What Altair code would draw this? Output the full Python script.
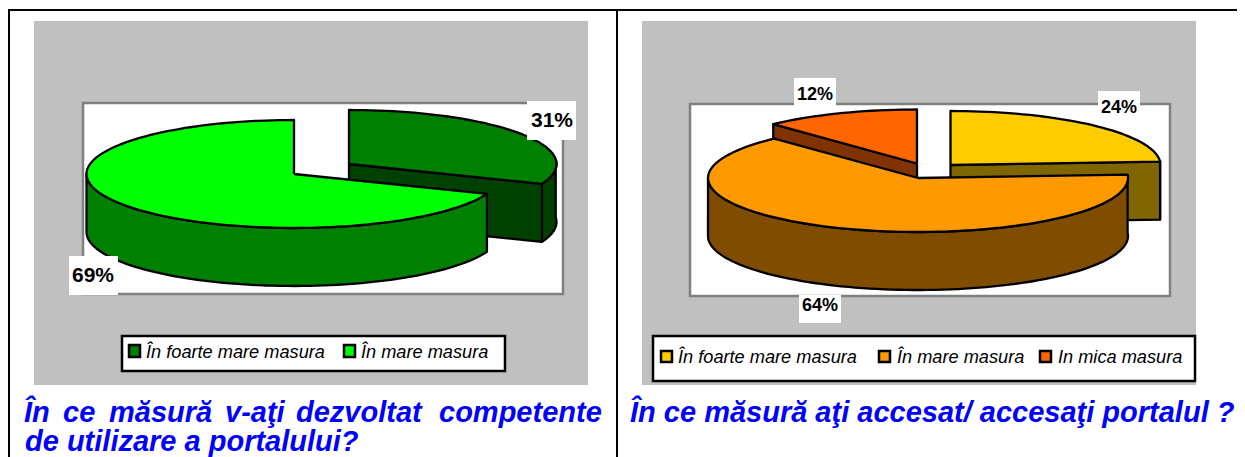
import math
import altair as alt
import pandas as pd

# ---- values ----
left_shares = [31, 69]
left_labels = ["31%", "69%"]
left_names = ["În foarte mare masura", "În mare masura"]
left_tops = ["#008000", "#00FF00"]
left_sides = ["#004000", "#008000"]

right_shares = [24, 64, 12]
right_labels = ["24%", "64%", "12%"]
right_names = ["În foarte mare masura", "În mare masura", "In mica masura"]
right_tops = ["#FFCC00", "#FF9900", "#FF6600"]
right_sides = ["#806600", "#804D00", "#803300"]

left_title_words = ["În", "ce", "măsură", "v-aţi", "dezvoltat", "competente"]
left_title_line2 = "de utilizare a portalului?"
right_title = "În ce măsură aţi accesat/ accesaţi portalul ?"

# ---- layout (pixels of the page) ----
W, H = 1237, 457
RY, DEPTH = 54, 58
left_rx, right_rx = 207.5, 210
left_centers = [(349, 164), (294, 174)]
right_centers = [(950.5, 165), (918, 178), (917, 163.5)]
left_draw = [0, 1]
right_draw = [0, 2, 1]

X = alt.X("x:Q", scale=alt.Scale(domain=[8, W], nice=False, zero=False), axis=None)
Y = alt.Y("y:Q", scale=alt.Scale(domain=[H, 8], nice=False, zero=False), axis=None)


def poly(points, fill):
    df = pd.DataFrame(points + points[:1], columns=["x", "y"])
    df["i"] = range(len(df))
    return alt.Chart(df).mark_line(
        fill=fill, stroke="black", strokeWidth=2.3, strokeJoin="round", clip=False
    ).encode(x=X, y=Y, order=alt.Order("i:Q"))


def arc(cx, cy, rx, a0, a1, dy=0):
    n = max(2, int(abs(a1 - a0) / 2))
    out = []
    for k in range(n + 1):
        t = math.radians(a0 + (a1 - a0) * k / n)
        out.append((cx + rx * math.sin(t), cy - RY * math.cos(t) + dy))
    return out


def pie(shares, centers, rx, tops, sides, order):
    total = sum(shares)
    starts = [sum(shares[:i]) / total * 360 for i in range(len(shares))]
    layers = []
    for i in order:
        a0, a1 = starts[i], starts[i] + shares[i] / total * 360
        cx, cy = centers[i]
        lo, hi = max(a0, 85), min(a1, 270)
        if lo < hi:
            layers.append(poly(arc(cx, cy, rx, lo, hi) + arc(cx, cy, rx, hi, lo, DEPTH), sides[i]))
        for a, vis in ((a0, math.sin(math.radians(a0)) < -1e-6), (a1, math.sin(math.radians(a1)) > 1e-6)):
            if vis:
                p = arc(cx, cy, rx, a, a)[0]
                layers.append(poly([(cx, cy), p, (p[0], p[1] + DEPTH), (cx, cy + DEPTH)], sides[i]))
        layers.append(poly([(cx, cy)] + arc(cx, cy, rx, a0, a1), tops[i]))
    return layers


def rects(rows, **kw):
    df = pd.DataFrame(rows, columns=["x", "x2", "y", "y2"])
    return alt.Chart(df).mark_rect(**kw).encode(x=X, x2="x2:Q", y=Y, y2="y2:Q")


def texts(rows, **kw):
    df = pd.DataFrame(rows, columns=["x", "y", "t"])
    return alt.Chart(df).mark_text(font="Liberation Sans", baseline="alphabetic", **kw).encode(
        x=X, y=Y, text="t:N"
    )


layers = [
    rects([(34, 588, 21, 385), (642, 1196, 21, 385)], color="#C0C0C0"),
    rects([(83, 563, 103, 294), (690, 1170, 104, 296)], fill="white", stroke="#808080", strokeWidth=2.5),
]
layers += pie(left_shares, left_centers, left_rx, left_tops, left_sides, left_draw)
layers += pie(right_shares, right_centers, right_rx, right_tops, right_sides, right_draw)

# white boxes and percent labels
layers.append(rects([(527, 576, 101, 140), (69, 118, 256, 295)], color="white"))
layers.append(rects([(1098, 1140, 91, 115), (799, 841, 295, 323), (794, 836, 78, 106)], color="white"))
layers.append(texts([(552, 127, left_labels[0]), (93, 282, left_labels[1])],
                    fontSize=21, fontWeight="bold", align="center", color="#000000"))
layers.append(texts([(1119, 113, right_labels[0]), (820, 311, right_labels[1]), (815, 100, right_labels[2])],
                    fontSize=18, fontWeight="bold", align="center", color="#000000"))

# legends
layers.append(rects([(122, 505, 336, 371), (653, 1195, 336, 381)], fill="white", stroke="black", strokeWidth=2.5))
swatches = [
    (129, 140, 345, 357, left_tops[0]), (344, 355, 345, 357, left_tops[1]),
    (661, 672, 351, 362, right_tops[0]), (879, 890, 351, 362, right_tops[1]), (1040, 1051, 351, 362, right_tops[2]),
]
for x0, x1, y0, y1, c in swatches:
    layers.append(rects([(x0, x1, y0, y1)], fill=c, stroke="black", strokeWidth=2.5))
layers.append(texts([(146, 358, left_names[0]), (361, 358, left_names[1]),
                     (678, 363, right_names[0]), (897, 363, right_names[1]), (1058, 363, right_names[2])],
                    fontSize=18.2, fontStyle="italic", align="left", color="black"))

# question titles
title_x = [24, 63, 109, 225, 296, 439]
rows = [(x, 422, w) for x, w in zip(title_x, left_title_words)]
rows += [(25, 451, left_title_line2), (630, 422, right_title)]
layers.append(texts(rows, fontSize=29, fontStyle="italic", fontWeight="bold", align="left", color="#0000FF"))

# table rules
layers.append(rects([(8, W, 9, 11), (8, 10, 9, H), (616, 618, 9, H)], color="black"))

chart = alt.layer(*layers).properties(
    width=W - 8, height=H - 8, padding=0,
    autosize=alt.AutoSizeParams(type="none"),
    background="white",
).configure_view(stroke=None)

chart.save("out.html", embed_options={"renderer": "svg", "actions": False})
